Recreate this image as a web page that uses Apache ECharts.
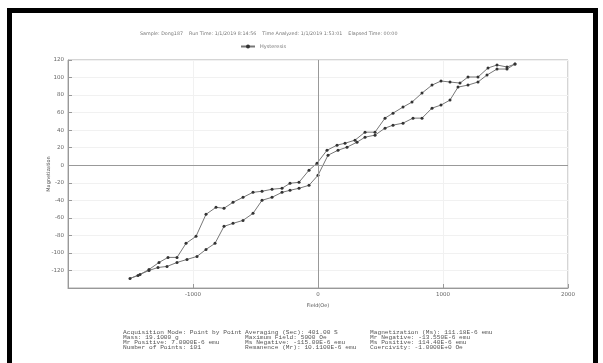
<!DOCTYPE html>
<html>
<head>
<meta charset="utf-8">
<script src="https://cdn.jsdelivr.net/npm/echarts@6/dist/echarts.min.js"></script>
<style>
  html, body { margin: 0; padding: 0; background: #fff; }
  .frame {
    position: absolute; left: 7px; top: 8px; width: 581px; height: 360px;
    border-left: 5px solid #000; border-top: 5px solid #000; border-right: 5px solid #000;
  }
  #chart { position: absolute; left: 0; top: 0; width: 603px; height: 363px; }
</style>
</head>
<body>
<div class="frame"></div>
<div id="chart"></div>
<script>
// descending branch (from +H down to -H)
const fieldDown = [1576, 1512, 1432, 1360, 1280, 1200, 1136, 1056, 984, 912, 832, 752, 680, 600, 536, 456, 376, 296, 216, 152, 72, -8,
  -72, -152, -224, -288, -368, -448, -520, -600, -680, -752, -816, -896, -976, -1056, -1128, -1200, -1272, -1352, -1440, -1504];
const momentDown = [115.4, 112, 114.3, 110.9, 100.6, 100.6, 93.7, 94.9, 96, 91.4, 82.3, 72, 66.3, 59.4, 53.7, 37.7, 37.7, 28.6, 25.1, 22.9, 17.1, 2.3,
  -5.7, -19.4, -20.6, -26.3, -27.4, -29.7, -30.9, -36.6, -42.3, -49.1, -48, -56, -81.1, -89.1, -105.1, -105.1, -110.9, -118.9, -125.7, -129.1];
// ascending branch (from -H back up to +H)
const fieldUp = [-1424, -1352, -1280, -1208, -1128, -1048, -968, -896, -824, -752, -680, -600, -520, -448, -368, -288, -224, -152, -72, 0,
  80, 160, 232, 312, 376, 456, 536, 600, 680, 760, 832, 912, 984, 1056, 1120, 1200, 1280, 1352, 1432, 1512, 1576];
const momentUp = [-124.6, -120, -116.6, -115.4, -110.9, -107.4, -104, -96, -89.1, -69.7, -66.3, -62.9, -54.9, -40, -36.6, -30.9, -28.6, -26.3, -22.9, -11.4,
  11.4, 17.1, 20.6, 26.3, 32, 34.3, 42.3, 45.7, 48, 53.7, 53.7, 65.1, 68.6, 74.3, 89.1, 91.4, 94.9, 102.9, 109.7, 109.7, 115.4];

const headerText = "Sample: Dong187    Run Time: 1/1/2019 8:14:56    Time Analyzed: 1/1/2019 1:53:01    Elapsed Time: 00:00";
const footerCol1 = ["Acquisition Mode: Point by Point", "Mass: 19.1000 g", "Mr Positive: 7.0000E-6 emu", "Number of Points: 101"];
const footerCol2 = ["Averaging (Sec): 401.00 S", "Maximum Field: 5000 Oe", "Ms Negative: -115.00E-6 emu", "Remanence (Mr): 10.1100E-6 emu"];
const footerCol3 = ["Magnetization (Ms): 111.18E-6 emu", "Mr Negative: -13.550E-6 emu", "Ms Positive: 114.40E-6 emu", "Coercivity: -1.0000E+0 Oe"];

const loop = [];
fieldDown.forEach((h, i) => loop.push([h, momentDown[i]]));
fieldUp.forEach((h, i) => loop.push([h, momentUp[i]]));

const myChart = echarts.init(document.getElementById("chart"));

const footerStyle = (lines) => ({
  text: lines.join("\n"),
  font: "6.2px 'Liberation Mono'",
  fill: "#555",
  lineHeight: 5,
});

const option = {
  animation: false,
  title: {
    text: headerText,
    left: 140,
    top: 31,
    padding: 0,
    textStyle: { fontSize: 4.8, fontWeight: "normal", color: "#777", fontFamily: "DejaVu Sans" },
  },
  legend: {
    left: 240,
    top: 44,
    padding: 0,
    itemWidth: 14,
    itemHeight: 5,
    itemGap: 4,
    textStyle: { fontSize: 5, color: "#777", fontFamily: "DejaVu Sans" },
    data: ["Hysteresis"],
  },
  grid: {
    left: 68,
    right: 35,
    top: 60,
    bottom: 75,
    show: true,
    borderColor: "#aaa",
    borderWidth: 1,
  },
  xAxis: {
    type: "value",
    min: -2000,
    max: 2000,
    interval: 1000,
    name: "Field(Oe)",
    nameLocation: "middle",
    nameGap: 12,
    nameTextStyle: { fontSize: 5, color: "#555", fontFamily: "DejaVu Sans" },
    axisLine: { onZero: false, lineStyle: { color: "#999" } },
    axisTick: { inside: true, length: 4, lineStyle: { color: "#999" } },
    axisLabel: { showMinLabel: false, fontSize: 5.5, color: "#666", margin: 4, fontFamily: "DejaVu Sans", formatter: (v) => String(v) },
    splitLine: { show: true, lineStyle: { color: "#f1f1f1" } },
  },
  yAxis: {
    type: "value",
    min: -140,
    max: 120,
    interval: 20,
    axisLine: { onZero: false, lineStyle: { color: "#999" } },
    axisTick: { inside: true, length: 4, lineStyle: { color: "#999" } },
    axisLabel: { showMinLabel: false, fontSize: 5.5, color: "#666", margin: 4, fontFamily: "DejaVu Sans", formatter: (v) => String(v) },
    splitLine: { show: true, lineStyle: { color: "#f1f1f1" } },
  },
  series: [
    {
      name: "Hysteresis",
      type: "line",
      data: loop,
      symbol: "circle",
      symbolSize: 3,
      showAllSymbol: true,
      lineStyle: { color: "#777", width: 1 },
      itemStyle: { color: "#333" },
      markLine: {
        silent: true,
        symbol: "none",
        label: { show: false },
        lineStyle: { color: "#999", type: "solid", width: 1 },
        data: [{ xAxis: 0 }, { yAxis: 0 }],
      },
    },
  ],
  graphic: [
    {
      type: "text",
      x: 49,
      y: 174,
      rotation: Math.PI / 2,
      style: { text: "Magnetization", font: "5px 'DejaVu Sans'", fill: "#555", align: "center", verticalAlign: "middle" },
    },
    { type: "text", left: 123, top: 329, style: footerStyle(footerCol1) },
    { type: "text", left: 245, top: 329, style: footerStyle(footerCol2) },
    { type: "text", left: 370, top: 329, style: footerStyle(footerCol3) },
  ],
};

option && myChart.setOption(option);
</script>
</body>
</html>
